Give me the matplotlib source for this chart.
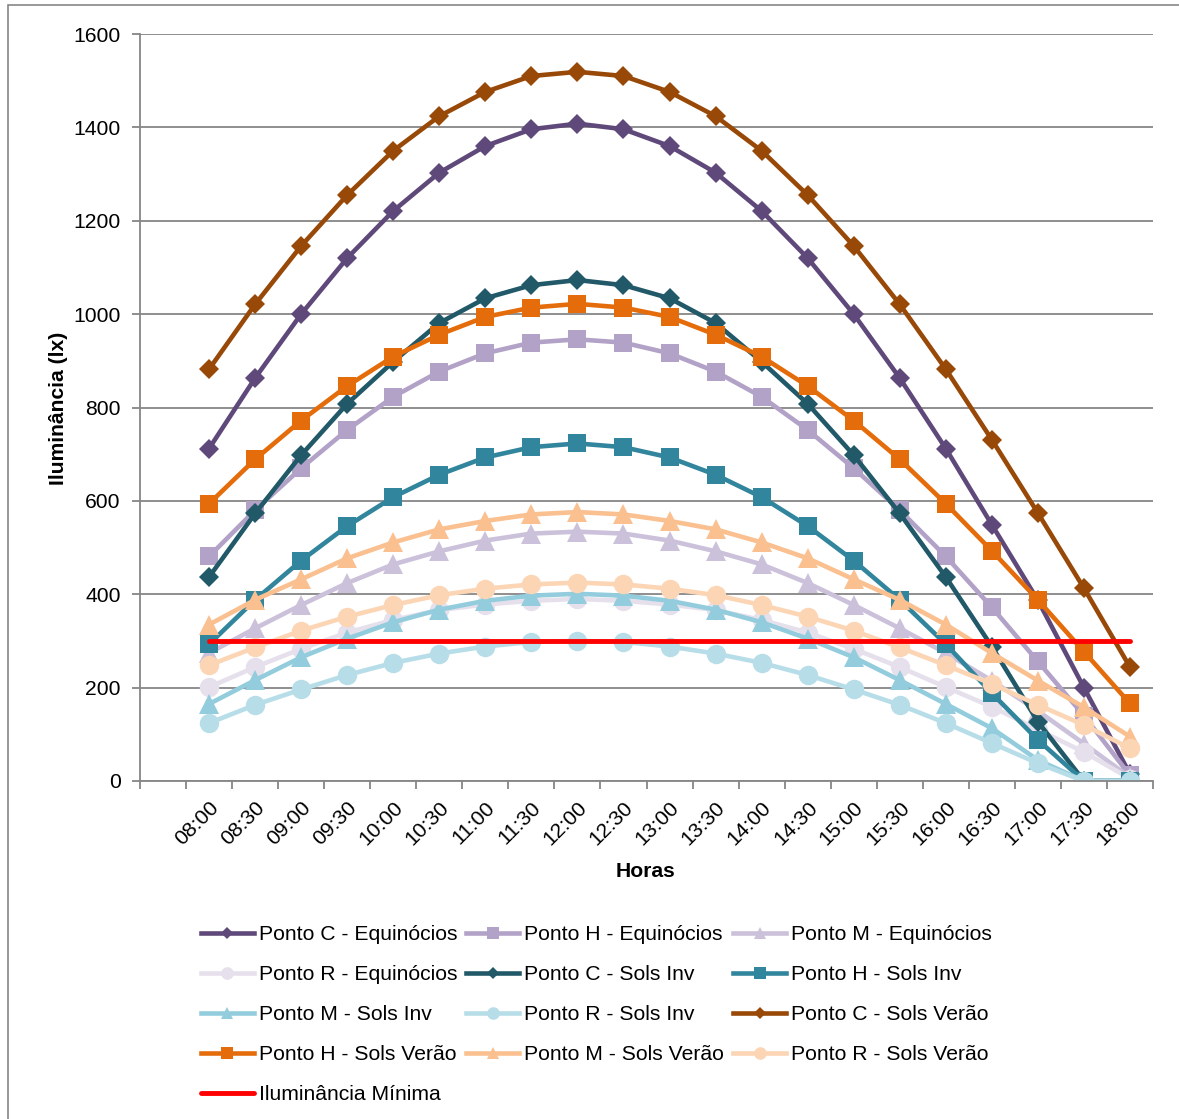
import matplotlib.pyplot as plt
import numpy as np
from matplotlib.patches import Rectangle

plt.rcParams['font.family'] = ['Liberation Sans', 'DejaVu Sans']

horas = ['08:00', '08:30', '09:00', '09:30', '10:00', '10:30', '11:00',
         '11:30', '12:00', '12:30', '13:00', '13:30', '14:00', '14:30',
         '15:00', '15:30', '16:00', '16:30', '17:00', '17:30', '18:00']

c_equi = [712, 863, 1000, 1120, 1221, 1303, 1360, 1396, 1408, 1396, 1360,
          1303, 1221, 1120, 1000, 863, 712, 549, 387, 200, 15]
h_equi = [481, 580, 670, 752, 823, 877, 916, 939, 946, 939, 916,
          877, 823, 752, 670, 580, 481, 372, 256, 140, 12]
m_equi = [274, 327, 377, 424, 464, 492, 515, 530, 534, 530, 515,
          492, 464, 424, 377, 327, 274, 215, 150, 80, 8]
r_equi = [201, 244, 283, 318, 345, 366, 378, 386, 390, 386, 378,
          366, 345, 318, 283, 244, 201, 159, 110, 62, 5]
c_inv = [437, 573, 698, 808, 898, 981, 1034, 1062, 1073, 1062, 1034,
         981, 898, 808, 698, 573, 437, 288, 127, 0, 0]
h_inv = [293, 388, 472, 546, 608, 656, 693, 715, 723, 715, 693,
         656, 608, 546, 472, 388, 293, 188, 88, 0, 0]
m_inv = [165, 216, 265, 305, 340, 367, 386, 397, 401, 397, 386,
         367, 340, 305, 265, 216, 165, 113, 45, 0, 0]
r_inv = [124, 163, 196, 227, 253, 273, 288, 298, 300, 298, 288,
         273, 253, 227, 196, 163, 124, 81, 38, 0, 0]
c_ver = [882, 1021, 1146, 1255, 1350, 1424, 1476, 1510, 1519, 1510, 1476,
         1424, 1350, 1255, 1146, 1021, 882, 731, 574, 413, 244]
h_ver = [594, 689, 772, 846, 909, 956, 994, 1014, 1022, 1014, 994,
         956, 909, 846, 772, 689, 594, 493, 388, 277, 166]
m_ver = [335, 388, 432, 477, 511, 539, 557, 571, 576, 571, 557,
         539, 511, 477, 432, 388, 335, 274, 215, 158, 95]
r_ver = [248, 286, 322, 352, 377, 398, 412, 421, 425, 421, 412,
         398, 377, 352, 322, 286, 248, 208, 163, 120, 70]
minimo = [300] * len(horas)

series = [
    ('Ponto C - Equinócios', c_equi, '#5F497A', 'D', 10),
    ('Ponto H - Equinócios', h_equi, '#B3A2C7', 's', 13),
    ('Ponto M - Equinócios', m_equi, '#CCC1DA', '^', 14),
    ('Ponto R - Equinócios', r_equi, '#E6E0EC', 'o', 14),
    ('Ponto C - Sols Inv', c_inv, '#215968', 'D', 10),
    ('Ponto H - Sols Inv', h_inv, '#31859C', 's', 13),
    ('Ponto M - Sols Inv', m_inv, '#93CDDD', '^', 14),
    ('Ponto R - Sols Inv', r_inv, '#B7DEE8', 'o', 14),
    ('Ponto C - Sols Verão', c_ver, '#984807', 'D', 10),
    ('Ponto H - Sols Verão', h_ver, '#E46C0A', 's', 13),
    ('Ponto M - Sols Verão', m_ver, '#FAC090', '^', 14),
    ('Ponto R - Sols Verão', r_ver, '#FCD5B5', 'o', 14),
]

W, H = 1179, 1119
FS = 15.2
fig = plt.figure(figsize=(W / 100, H / 100), dpi=100)
fig.patches.append(Rectangle((8 / W, -0.1), 1.2, 1.1 - 5 / H, transform=fig.transFigure,
                             fill=False, edgecolor='#868686', linewidth=1.2))
ax = fig.add_axes([140 / W, 1 - 781 / H, 1013 / W, 747 / H])

# first category is empty, data starts at category 1
pos = np.arange(1, len(horas) + 1)

handles = []
for label, vals, color, marker, ms in series:
    line, = ax.plot(pos, vals, color=color, marker=marker, markersize=ms,
                    linewidth=3.3, label=label, markeredgewidth=0)
    handles.append(line)
line, = ax.plot(pos, minimo, color='#FF0000', linewidth=3.5,
                solid_capstyle='round', label='Iluminância Mínima')
handles.append(line)

ax.set_xlim(-0.5, len(horas) + 0.5)
ax.set_ylim(0, 1600)
ax.set_yticks(np.arange(0, 1601, 200))
ax.yaxis.grid(True, color='#868686', linewidth=1.3)
ax.set_axisbelow(True)

ax.set_xticks(np.arange(-0.5, len(horas) + 1, 1))
ax.set_xticklabels([])
ax.set_xticks(pos, minor=True)
ax.set_xticklabels(horas, minor=True, rotation=45, ha='right', va='top',
                   rotation_mode='anchor', fontsize=FS)
ax.tick_params(axis='x', which='minor', length=0, pad=12)
ax.tick_params(axis='x', which='major', length=6, width=1.3, color='#868686')
ax.tick_params(axis='y', length=6, width=1.3, color='#868686', labelsize=FS, pad=8)

for s in ['top', 'right']:
    ax.spines[s].set_visible(False)
for s in ['left', 'bottom']:
    ax.spines[s].set_color('#868686')
    ax.spines[s].set_linewidth(1.3)

ax.set_xlabel('Horas', fontsize=FS, fontweight='bold')
ax.xaxis.set_label_coords(0.4995, -0.108)
ax.set_ylabel('Iluminância (lx)', fontsize=FS, fontweight='bold')
ax.yaxis.set_label_coords(-0.071, 0.4993)

# reorder so matplotlib's column-major legend reads row by row
order = [0, 3, 6, 9, 12, 1, 4, 7, 10, 2, 5, 8, 11]
leg = fig.legend([handles[i] for i in order], [handles[i].get_label() for i in order],
                 ncol=3, loc='upper left', bbox_to_anchor=(201 / W, 1 - 925 / H),
                 frameon=False, fontsize=FS, handlelength=2.5, handletextpad=0.25,
                 columnspacing=0.42, labelspacing=1.0, markerscale=0.65,
                 borderpad=0, borderaxespad=0, numpoints=1)

fig.savefig('out.png', dpi=100)
